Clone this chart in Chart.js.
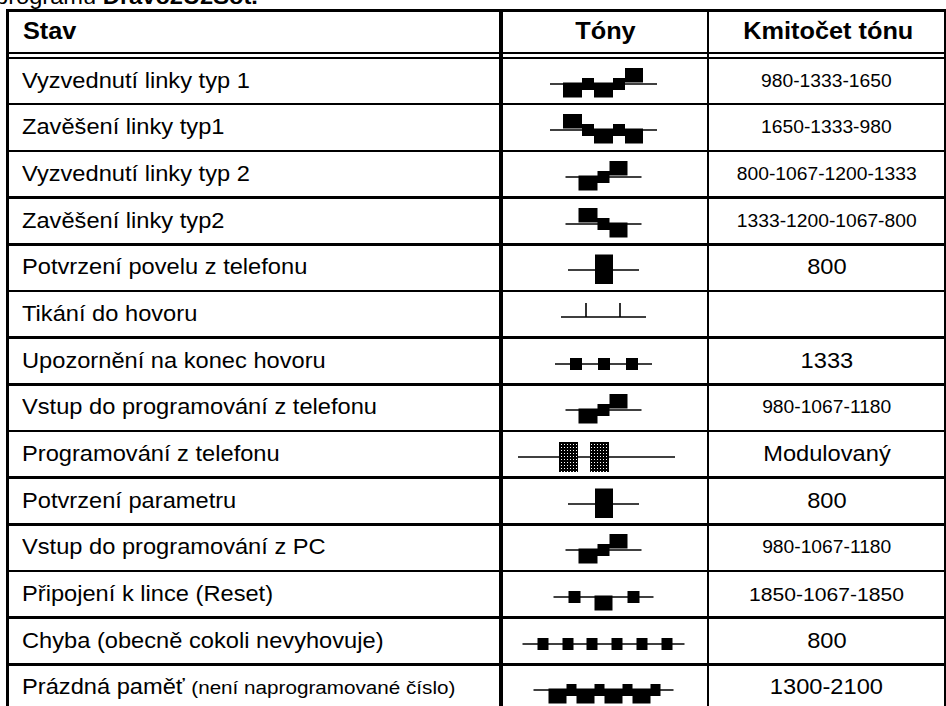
<!DOCTYPE html>
<html><head><meta charset="utf-8">
<script src="https://cdn.jsdelivr.net/npm/chart.js@4.4.1/dist/chart.umd.min.js"></script>
<style>
html,body{margin:0;padding:0;background:#fff;}
body{width:946px;height:706px;overflow:hidden;position:relative;font-family:"Liberation Sans",Arial,sans-serif;color:#000;}
.rule{position:absolute;background:#000;}
.txt{position:absolute;white-space:nowrap;}
.sx{display:inline-block;transform:scaleX(1.1);}
.left .sx{transform-origin:0 50%;}
.center .sx{transform-origin:50% 50%;}
canvas.glyph{position:absolute;}
</style></head><body>
<div id="root"></div>
<script>
// ---------------- DATA ----------------
const headers = ["Stav", "Tóny", "Kmitočet tónu"];
const states = [
  "Vyzvednutí linky typ 1",
  "Zavěšení linky typ1",
  "Vyzvednutí linky typ 2",
  "Zavěšení linky typ2",
  "Potvrzení povelu z telefonu",
  "Tikání do hovoru",
  "Upozornění na konec hovoru",
  "Vstup do programování z telefonu",
  "Programování z telefonu",
  "Potvrzení parametru",
  "Vstup do programování z PC",
  "Připojení k lince (Reset)",
  "Chyba (obecně cokoli nevyhovuje)",
  "Prázdná paměť"
];
const stateNotes = ["", "", "", "", "", "", "", "", "", "", "", "", "", "(není naprogramované číslo)"];
const frequencies = [
  "980-1333-1650",
  "1650-1333-980",
  "800-1067-1200-1333",
  "1333-1200-1067-800",
  "800",
  "",
  "1333",
  "980-1067-1180",
  "Modulovaný",
  "800",
  "980-1067-1180",
  "1850-1067-1850",
  "800",
  "1300-2100"
];
// tone sequences: [kind, duration]  ('-' pause line, L low tone, M middle tone, H high tone,
// T long tone, P modulated tone, '|' tick)
const tones1 = [["-",13],["L",19],["M",12],["L",19],["M",12],["H",18],["-",14]];
const tones2 = [["-",13],["H",19],["M",12],["L",19],["M",12],["L",18],["-",14]];
const tones3 = [["-",13],["L",19],["M",12],["H",18],["-",14]];
const tones4 = [["-",13],["H",19],["M",12],["L",18],["-",14]];
const tones5 = [["-",27],["T",18],["-",26]];
const tones6 = [["-",25],["|",0],["-",34],["|",0],["-",26]];
const tones7 = [["-",15],["M",12],["-",16],["M",12],["-",16],["M",12],["-",14]];
const tones8 = [["-",13],["L",19],["M",12],["H",18],["-",14]];
const tones9 = [["-",41],["P",19],["-",12],["P",19],["-",66]];
const tones10 = [["-",27],["T",18],["-",26]];
const tones11 = [["-",13],["L",19],["M",12],["H",18],["-",14]];
const tones12 = [["-",15],["M",12],["-",14],["L",18],["-",15],["M",12],["-",14]];
const tones13 = [["-",15],["M",11],["-",14],["M",11],["-",13],["M",11],["-",14],["M",11],["-",14],["M",11],["-",14],["M",11],["-",12]];
const tones14 = [["-",15],["L",18],["M",10],["L",18],["M",10],["L",18],["M",10],["L",18],["M",10],["-",13]];
const toneRows = [tones1,tones2,tones3,tones4,tones5,tones6,tones7,tones8,tones9,tones10,tones11,tones12,tones13,tones14];

// ---------------- STYLE / LAYOUT ----------------
const LEVEL = { L:[-13.5,1.5], M:[-6,6], H:[1.5,16], T:[-14,15.5], P:[-15,15] };
const TICK = 14;
const freqFont = [17.5,17.5,17.5,17.5,21.5,21.5,21.5,17.5,21.5,21.5,17.5,19.2,21.5,21.5];
const glyphShift = [0,0,0,0,0,0,0,0,-7,0,0,0,0,0];
const X_LEFT = 6, X_C1 = 499, X_C2 = 707, X_RIGHT = 944;
const rowTopFirst = 57.8, rowLine1 = 104.3, rowH = 46.67;

const root = document.getElementById('root');
function rule(x, y, w, h){ const d=document.createElement('div'); d.className='rule';
  Object.assign(d.style,{left:x+'px',top:y+'px',width:w+'px',height:h+'px'}); root.appendChild(d); }
function text(html, x, y, w, h, size, align, bold){
  const d=document.createElement('div'); d.className='txt '+align;
  Object.assign(d.style,{left:x+'px',top:y+'px',width:w+'px',height:h+'px',lineHeight:h+'px',
    fontSize:size+'px',fontWeight:bold?'bold':'normal',textAlign:align});
  d.innerHTML='<span class="sx">'+html+'</span>'; root.appendChild(d); }

// clipped caption above the table
(function(){ const d=document.createElement('div'); d.className='txt left';
  Object.assign(d.style,{left:'-5px',top:'-16px',fontSize:'21.5px',lineHeight:'26px'});
  d.innerHTML='<span class="sx">programu <b>Dravo2U2Sot.</b></span>'; root.appendChild(d); })();

// boundaries
const bounds = [rowTopFirst];
for (let j=0;j<states.length;j++) bounds.push(rowLine1 + j*rowH);

// rules
const RT = 2.4;
rule(X_LEFT, 9, X_RIGHT+2-X_LEFT, 2.5);
rule(X_LEFT, 51.7, X_RIGHT+2-X_LEFT, 2.3);
rule(X_LEFT, 56.7, X_RIGHT+2-X_LEFT, 2.3);
for (let j=1;j<bounds.length;j++) rule(X_LEFT, bounds[j]-RT/2, X_RIGHT+2-X_LEFT, RT);
rule(X_LEFT, 9, 2.5, 706);
rule(X_C1, 9, 4, 706);
rule(X_C2, 9, 2.2, 706);
rule(X_RIGHT, 9, 2.2, 706);

// header
text(headers[0], 23, 11, 300, 41, 23, 'left', true);
text(headers[1], X_C1+4, 11, X_C2-X_C1-4, 41, 23, 'center', true);
text(headers[2], X_C2+2, 11, X_RIGHT-X_C2-2+4, 41, 23, 'center', true);

// body text
for (let i=0;i<states.length;i++){
  const top = bounds[i]+1, h = bounds[i+1]-bounds[i]-1;
  let html = states[i];
  if (stateNotes[i]) html += ' <span style="font-size:18.8px">'+stateNotes[i]+'</span>';
  text(html, 22, top, 470, h, 21.5, 'left', false);
  if (frequencies[i]) text(frequencies[i], X_C2+2, top, X_RIGHT-X_C2-2, h, freqFont[i], 'center', false);
}

// pattern for modulated tone
function makePattern(){
  const c=document.createElement('canvas'); c.width=3; c.height=3;
  const g=c.getContext('2d'); g.fillStyle='#000'; g.fillRect(0,0,3,3);
  g.fillStyle='#fff'; g.fillRect(1,1,1,1);
  return g.createPattern(c,'repeat');
}
const modPattern = makePattern();

// glyph charts
const CW = X_C2 - (X_C1+4);
const glyphCenter = 603.5 - (X_C1+4);
for (let i=0;i<toneRows.length;i++){
  const seq = toneRows[i];
  let x=0; const base=[], top=[], bot=[]; let patterned=false;
  for (const [k,d] of seq){
    if (k==='|'){ base.push({x,y:0},{x,y:TICK},{x,y:0}); continue; }
    base.push({x,y:0},{x:x+d,y:0});
    const lv = LEVEL[k] || [0,0];
    top.push({x,y:lv[1]},{x:x+d,y:lv[1]}); bot.push({x,y:lv[0]},{x:x+d,y:lv[0]});
    if (k==='P') patterned=true;
    x+=d;
  }
  const total = x;
  const shape = top.concat(bot.reverse());
  const start = glyphCenter - total/2 + glyphShift[i];
  const H = Math.round(bounds[i+1]-bounds[i]);
  const basePix = H/2 + 2.5;
  const cv=document.createElement('canvas'); cv.className='glyph';
  cv.width=CW; cv.height=H;
  Object.assign(cv.style,{left:(X_C1+4)+'px',top:bounds[i]+'px',width:CW+'px',height:H+'px'});
  root.appendChild(cv);
  const datasets = [{
    data: base, borderColor:'#000', borderWidth:1.6, fill:false, stepped:true, order:1, pointRadius:0
  },{
    data: shape, borderWidth:0, borderColor:'rgba(0,0,0,0)', backgroundColor: patterned?modPattern:'#000',
    fill:'shape', stepped:true, order:0, pointRadius:0
  }];
  new Chart(cv, {
    type:'line',
    data:{datasets},
    options:{
      responsive:false, animation:false, events:[],
      layout:{padding:0},
      plugins:{legend:{display:false}, tooltip:{enabled:false}},
      elements:{point:{radius:0}, line:{tension:0}},
      scales:{
        x:{type:'linear', display:false, min:-start, max:-start+CW},
        y:{type:'linear', display:false, min:-(H-basePix), max:basePix}
      }
    }
  });
}
</script>
</body></html>
